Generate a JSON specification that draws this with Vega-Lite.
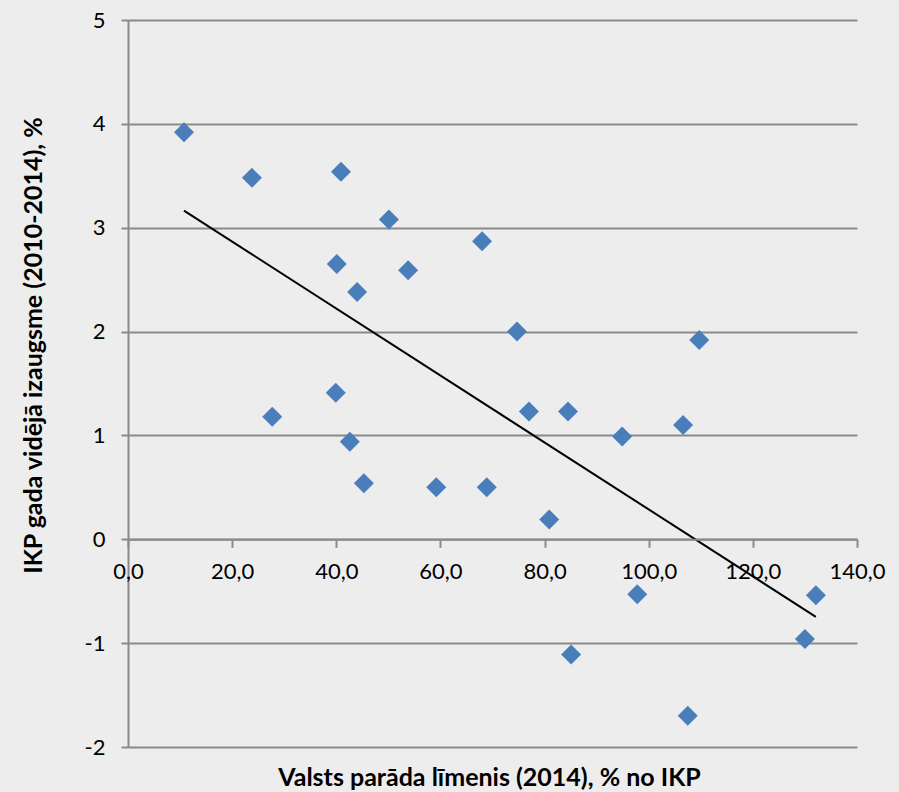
{
  "$schema": "https://vega.github.io/schema/vega-lite/v6.json",
  "width": 729,
  "height": 727,
  "autosize": {"type": "none"},
  "padding": {"left": 128, "top": 20, "right": 42, "bottom": 45},
  "background": "#ededed",
  "config": {
    "view": {"stroke": null},
    "font": "Lato"
  },
  "data": {
    "values": [
      {"debt": 10.75, "growth": 3.92},
      {"debt": 23.8, "growth": 3.48},
      {"debt": 27.7, "growth": 1.18},
      {"debt": 40.9, "growth": 3.54},
      {"debt": 40.1, "growth": 2.65},
      {"debt": 44.0, "growth": 2.38},
      {"debt": 39.9, "growth": 1.41},
      {"debt": 42.6, "growth": 0.94},
      {"debt": 45.3, "growth": 0.54},
      {"debt": 50.1, "growth": 3.08},
      {"debt": 53.8, "growth": 2.59},
      {"debt": 59.2, "growth": 0.50},
      {"debt": 68.0, "growth": 2.87},
      {"debt": 68.9, "growth": 0.50},
      {"debt": 74.7, "growth": 2.00},
      {"debt": 77.0, "growth": 1.23},
      {"debt": 80.9, "growth": 0.19},
      {"debt": 84.5, "growth": 1.23},
      {"debt": 85.1, "growth": -1.11},
      {"debt": 94.9, "growth": 0.99},
      {"debt": 97.8, "growth": -0.53},
      {"debt": 106.6, "growth": 1.10},
      {"debt": 109.7, "growth": 1.92},
      {"debt": 107.5, "growth": -1.70},
      {"debt": 130.0, "growth": -0.96},
      {"debt": 132.1, "growth": -0.54}
    ]
  },
  "encoding": {
    "x": {
      "field": "debt",
      "type": "quantitative",
      "scale": {"domain": [0, 140], "nice": false, "zero": false},
      "axis": {
        "title": "Valsts parāda līmenis (2014), % no IKP",
        "values": [0, 20, 40, 60, 80, 100, 120, 140],
        "labelExpr": "replace(format(datum.value, '.1f'), '.', ',')",
        "offset": -207.7,
        "grid": false,
        "domainColor": "#8a8a8a",
        "domainWidth": 2,
        "tickColor": "#8a8a8a",
        "tickWidth": 2,
        "tickSize": 8,
        "labelFont": "Lato",
        "labelFontSize": 22,
        "labelColor": "#000000",
        "labelPadding": 14,
        "labelFlush": false,
        "labelOverlap": false,
        "titleFont": "Lato",
        "titleFontSize": 25,
        "titleFontWeight": "bold",
        "titleColor": "#000000",
        "titleBaseline": "alphabetic",
        "titleX": 361,
        "titleY": 246,
        "zindex": 1
      }
    },
    "y": {
      "field": "growth",
      "type": "quantitative",
      "scale": {"domain": [-2, 5], "nice": false, "zero": false},
      "axis": {
        "title": "IKP gada vidējā izaugsme (2010-2014), %",
        "values": [-2, -1, 0, 1, 2, 3, 4, 5],
        "labelExpr": "'' + datum.value",
        "grid": true,
        "gridColor": "#8a8a8a",
        "gridWidth": 2,
        "domainColor": "#8a8a8a",
        "domainWidth": 2,
        "tickColor": "#8a8a8a",
        "tickWidth": 2,
        "tickSize": 7,
        "labelFont": "Lato",
        "labelFontSize": 22,
        "labelColor": "#000000",
        "labelPadding": 16,
        "labelFlush": false,
        "titleFont": "Lato",
        "titleFontSize": 25,
        "titleFontWeight": "bold",
        "titleColor": "#000000",
        "titleX": -95,
        "titleY": 325,
        "titleBaseline": "middle",
        "zindex": 0
      }
    }
  },
  "layer": [
    {
      "mark": {"type": "point", "shape": "diamond", "filled": true, "size": 400, "color": "#4a7ebb", "opacity": 1}
    },
    {
      "transform": [{"regression": "growth", "on": "debt"}],
      "mark": {"type": "line", "color": "#000000", "strokeWidth": 2}
    }
  ]
}
